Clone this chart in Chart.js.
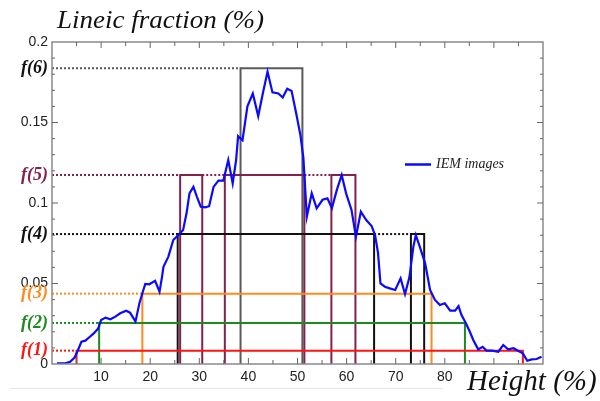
<!DOCTYPE html>
<html>
<head>
<meta charset="utf-8">
<script src="https://cdn.jsdelivr.net/npm/chart.js@4.4.0/dist/chart.umd.min.js"></script>
<style>
  html, body { margin: 0; padding: 0; background: #fff; }
  #box { width: 600px; height: 401px; }
</style>
</head>
<body>
<div id="box"><canvas id="myChart"></canvas></div>
<script>
// Blue measured curve (IEM images)
var heights = [1.0, 2.7, 3.7, 4.6, 5.3, 6.0, 6.8, 7.6, 8.5, 9.4, 10.0, 10.9, 11.9, 12.9, 13.9, 15.1, 15.9, 17.0, 17.8, 18.5,
  19.0, 19.8, 21.0, 21.9, 22.4, 22.7, 23.7, 24.7, 25.7, 26.7, 27.4, 28.0, 28.8, 29.5, 30.3, 31.2, 32.0, 32.9, 33.9, 34.9,
  35.9, 36.8, 37.5, 37.9, 38.8, 39.8, 40.9, 42.0, 43.0, 43.9, 44.9, 46.1, 47.0, 47.9, 48.8, 49.8, 50.6, 51.2, 51.9, 52.9,
  53.9, 55.1, 56.1, 57.0, 58.0, 59.0, 59.9, 61.0, 61.9, 62.9, 64.0, 65.1, 65.8, 66.4, 66.9, 67.8, 68.8, 69.9, 71.0, 71.9,
  72.8, 73.6, 74.1, 74.9, 76.0, 77.0, 78.0, 79.0, 80.0, 81.1, 82.1, 82.8, 83.4, 84.3, 85.1, 85.8, 86.8, 87.7, 88.5, 89.6,
  90.9, 91.9, 92.9, 94.0, 95.0, 95.9, 96.8, 97.7, 98.7, 99.7];
var fractions = [0.0004, 0.0004, 0.0014, 0.004, 0.0087, 0.0139, 0.0145, 0.0166, 0.019, 0.022, 0.0273, 0.0288, 0.0278, 0.0294, 0.0315, 0.0331, 0.0319, 0.0263, 0.0377, 0.0449,
  0.0497, 0.0495, 0.0517, 0.0449, 0.054, 0.0604, 0.0667, 0.077, 0.080, 0.0832, 0.0936, 0.106, 0.110, 0.104, 0.0977, 0.0973, 0.098, 0.110, 0.1139, 0.1139,
  0.1267, 0.1122, 0.1267, 0.1415, 0.139, 0.160, 0.168, 0.154, 0.169, 0.1816, 0.1687, 0.168, 0.1655, 0.171, 0.1696, 0.1547, 0.142, 0.128, 0.0915, 0.106,
  0.0967, 0.102, 0.1029, 0.0967, 0.108, 0.1174, 0.106, 0.0957, 0.079, 0.0946, 0.0894, 0.0857, 0.080, 0.069, 0.050, 0.048, 0.047, 0.046, 0.0532, 0.0435,
  0.054, 0.0729, 0.080, 0.0729, 0.0625, 0.046, 0.0398, 0.0366, 0.0377, 0.0331, 0.0331, 0.036, 0.0304, 0.0253, 0.020, 0.0149, 0.0091, 0.0107, 0.0083, 0.0083,
  0.0076, 0.0118, 0.0091, 0.0098, 0.0081, 0.0066, 0.002, 0.0029, 0.0031, 0.0045];

// step levels f(1)..f(6)
var levelNames = ["f(1)", "f(2)", "f(3)", "f(4)", "f(5)", "f(6)"];
var levelValues = [0.0083, 0.0255, 0.0437, 0.0807, 0.1174, 0.1837];
var levelColors = ["#ff1414", "#1e8a1e", "#ff8a1e", "#111111", "#82204f", "#5a5a5a"];
var labelColors = ["#ff1414", "#1e8a1e", "#ff8a1e", "#111111", "#82204f", "#111111"];
// each level: list of [start, end] height intervals
var levelBands = [
  [[5.0, 95.9]],
  [[9.6, 84.1]],
  [[18.4, 77.3]],
  [[25.6, 65.6], [73.1, 75.8]],
  [[26.1, 30.6], [35.2, 51.4], [56.9, 61.8]],
  [[38.4, 51.0]]
];

var yNumTicks = [0, 0.05, 0.1, 0.15, 0.2];
var yNumLabels = ["0", "0.05", "0.1", "0.15", "0.2"];
var xTicks = [10, 20, 30, 40, 50, 60, 70, 80];

var serif = "'Liberation Serif', 'DejaVu Serif', serif";
var sans = "'Liberation Sans', Arial, sans-serif";
var yAllTicks = yNumTicks.concat(levelValues);

function levelIndex(c) {
  var v;
  if (c && c.tick) v = c.tick.value;
  else if (c && c.index !== undefined) v = yAllTicks[c.index];
  return levelValues.indexOf(v);
}

var datasets = [];
datasets.push({
  label: "IEM images",
  data: heights.map(function (h, i) { return { x: h, y: fractions[i] }; }),
  borderColor: "#0a0aff",
  borderWidth: 2.2,
  pointRadius: 0,
  showLine: true,
  order: 0
});

for (let k = 0; k < levelValues.length; k++) {
  var f = levelValues[k];
  var bands = levelBands[k];
  // dotted part: from the axis to first band, and between bands
  var dots = [[0, bands[0][0]]];
  for (let b = 1; b < bands.length; b++) {
    dots.push([bands[b - 1][1], bands[b][0]]);
  }
  dots.forEach(function (d) {
    datasets.push({
      data: [{ x: d[0], y: f }, { x: d[1], y: f }],
      borderColor: levelColors[k],
      borderWidth: 2,
      borderDash: [2, 2],
      pointRadius: 0,
      showLine: true,
      order: 2
    });
  });
  bands.forEach(function (b) {
    datasets.push({
      data: [{ x: b[0], y: 0 }, { x: b[0], y: f }, { x: b[1], y: f }, { x: b[1], y: 0 }],
      borderColor: levelColors[k],
      borderWidth: 2,
      pointRadius: 0,
      showLine: true,
      order: 1
    });
  });
}

var extras = {
  id: "extras",
  afterDraw: function (chart) {
    var c = chart.ctx;
    var a = chart.chartArea;
    var xs = chart.scales.x, ys = chart.scales.y;
    c.save();
    // frame
    c.strokeStyle = "#8a8a8a";
    c.lineWidth = 1.5;
    c.strokeRect(a.left, a.top, a.right - a.left, a.bottom - a.top);
    // inward ticks
    c.lineWidth = 1;
    c.strokeStyle = "#666";
    for (let v = 5; v < 100; v += 5) {
      var px = xs.getPixelForValue(v);
      var len = v % 10 === 0 ? 6 : 4;
      c.beginPath();
      c.moveTo(px, a.bottom); c.lineTo(px, a.bottom - len);
      c.moveTo(px, a.top); c.lineTo(px, a.top + len);
      c.stroke();
    }
    for (let i = 1; i < 20; i++) {
      var py = ys.getPixelForValue(i / 100);
      var l2 = i % 5 === 0 ? 6 : 3;
      c.beginPath();
      c.moveTo(a.left, py); c.lineTo(a.left + l2, py);
      c.moveTo(a.right, py); c.lineTo(a.right - l2, py);
      c.stroke();
    }
    // faint rule under the chart
    c.strokeStyle = "#e6e6e6";
    c.beginPath();
    c.moveTo(10, 388.5); c.lineTo(443, 388.5);
    c.stroke();
    // axis titles
    c.fillStyle = "#111";
    c.textBaseline = "alphabetic";
    c.textAlign = "left";
    c.font = "italic 25px " + serif;
    c.save();
    c.translate(57, 28);
    c.scale(1.08, 1);
    c.fillText("Lineic fraction (%)", 0, 0);
    c.restore();
    c.font = "italic 29px " + serif;
    c.fillText("Height (%)", 467, 390);
    // legend
    c.strokeStyle = "#0a0aff";
    c.lineWidth = 2.5;
    c.beginPath();
    c.moveTo(405, 164.5); c.lineTo(431, 164.5);
    c.stroke();
    c.fillStyle = "#222";
    c.font = "italic 14px " + serif;
    c.textBaseline = "middle";
    c.fillText(chart.data.datasets[0].label, 436, 164);
    c.restore();
  }
};

var ctx = document.getElementById("myChart").getContext("2d");
var myChart = new Chart(ctx, {
  type: "scatter",
  data: { datasets: datasets },
  options: {
    responsive: true,
    maintainAspectRatio: false,
    animation: false,
    layout: { padding: { top: 42, right: 57, left: 0, bottom: 0 } },
    plugins: { legend: { display: false }, tooltip: { enabled: false } },
    scales: {
      x: {
        type: "linear",
        min: 0,
        max: 100,
        grid: { display: false, drawTicks: false },
        border: { display: false },
        afterBuildTicks: function (s) { s.ticks = xTicks.map(function (v) { return { value: v }; }); },
        afterFit: function (s) { s.height = 37; },
        ticks: {
          autoSkip: false,
          maxRotation: 0,
          padding: 5,
          color: "#222",
          font: { family: sans, size: 14 }
        }
      },
      y: {
        type: "linear",
        min: 0,
        max: 0.2,
        grid: { display: false, drawTicks: false },
        border: { display: false },
        afterBuildTicks: function (s) {
          s.ticks = yAllTicks.map(function (v) { return { value: v }; });
        },
        afterFit: function (s) { s.width = 52; },
        ticks: {
          autoSkip: false,
          padding: 4,
          callback: function (v) {
            var i = levelValues.indexOf(v);
            if (i >= 0) return levelNames[i];
            return yNumLabels[yNumTicks.indexOf(v)];
          },
          color: function (c) {
            var i = levelIndex(c);
            return i >= 0 ? labelColors[i] : "#222";
          },
          font: function (c) {
            var i = levelIndex(c);
            if (i >= 0) return { family: serif, size: 18, style: "italic", weight: "bold" };
            return { family: sans, size: 14 };
          }
        }
      }
    }
  },
  plugins: [extras]
});
</script>
</body>
</html>
